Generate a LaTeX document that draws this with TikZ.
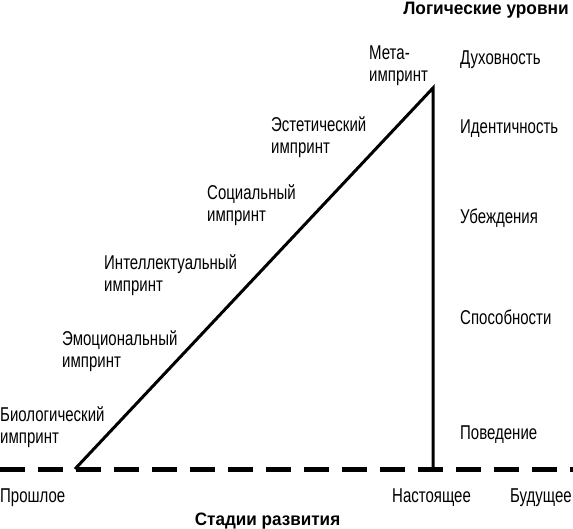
\documentclass[tikz,border=0pt]{standalone}
\usepackage{fontspec}
\setmainfont{Liberation Sans}[FakeStretch=0.75]
\newfontfamily\ttlfontA{Liberation Sans}[FakeStretch=0.96]
\newfontfamily\ttlfontB{Liberation Sans}[FakeStretch=0.95]
\begin{document}
\begin{tikzpicture}[x=1pt,y=-1pt,
  lbl/.style={anchor=base west,inner sep=0pt,font=\fontsize{20}{22}\selectfont,align=left},
  ttl/.style={anchor=base,inner sep=0pt},
  solidline/.style={line width=3pt},
  dashline/.style={line width=5pt,dash pattern=on 25pt off 13pt}]
\useasboundingbox (0,0) rectangle (573,529);
\coordinate (L) at (0,469);
\coordinate (R) at (573,469);
\coordinate (A) at (75,469);
\coordinate (T) at (433,88);
\coordinate (B) at (433,469);
\draw[dashline] (L) -- (R);
\draw[solidline] (A) -- (T) -- (B);
\node[ttl,font=\ttlfontA\fontsize{18}{22}\selectfont\bfseries] (top) at (486,15) {Логические уровни};
\node[ttl,font=\ttlfontB\fontsize{18}{22}\selectfont\bfseries] (bot) at (267.5,525) {Стадии развития};
\node[lbl] (meta) at (369,82) {Мета-\\импринт};
\node[lbl] (est) at (271,154) {Эстетический\\импринт};
\node[lbl] (soc) at (207,222) {Социальный\\импринт};
\node[lbl] (int) at (104,292) {Интеллектуальный\\импринт};
\node[lbl] (emo) at (62,367) {Эмоциональный\\импринт};
\node[lbl] (bio) at (0,443) {Биологический\\импринт};
\node[lbl] (l1) at (460,65) {Духовность};
\node[lbl] (l2) at (460,134) {Идентичность};
\node[lbl] (l3) at (460,224) {Убеждения};
\node[lbl] (l4) at (460,325) {Способности};
\node[lbl] (l5) at (460,439) {Поведение};
\node[lbl] (past) at (0,502) {Прошлое};
\node[lbl] (now) at (392,502) {Настоящее};
\node[lbl] (fut) at (510,502) {Будущее};
\end{tikzpicture}
\end{document}
